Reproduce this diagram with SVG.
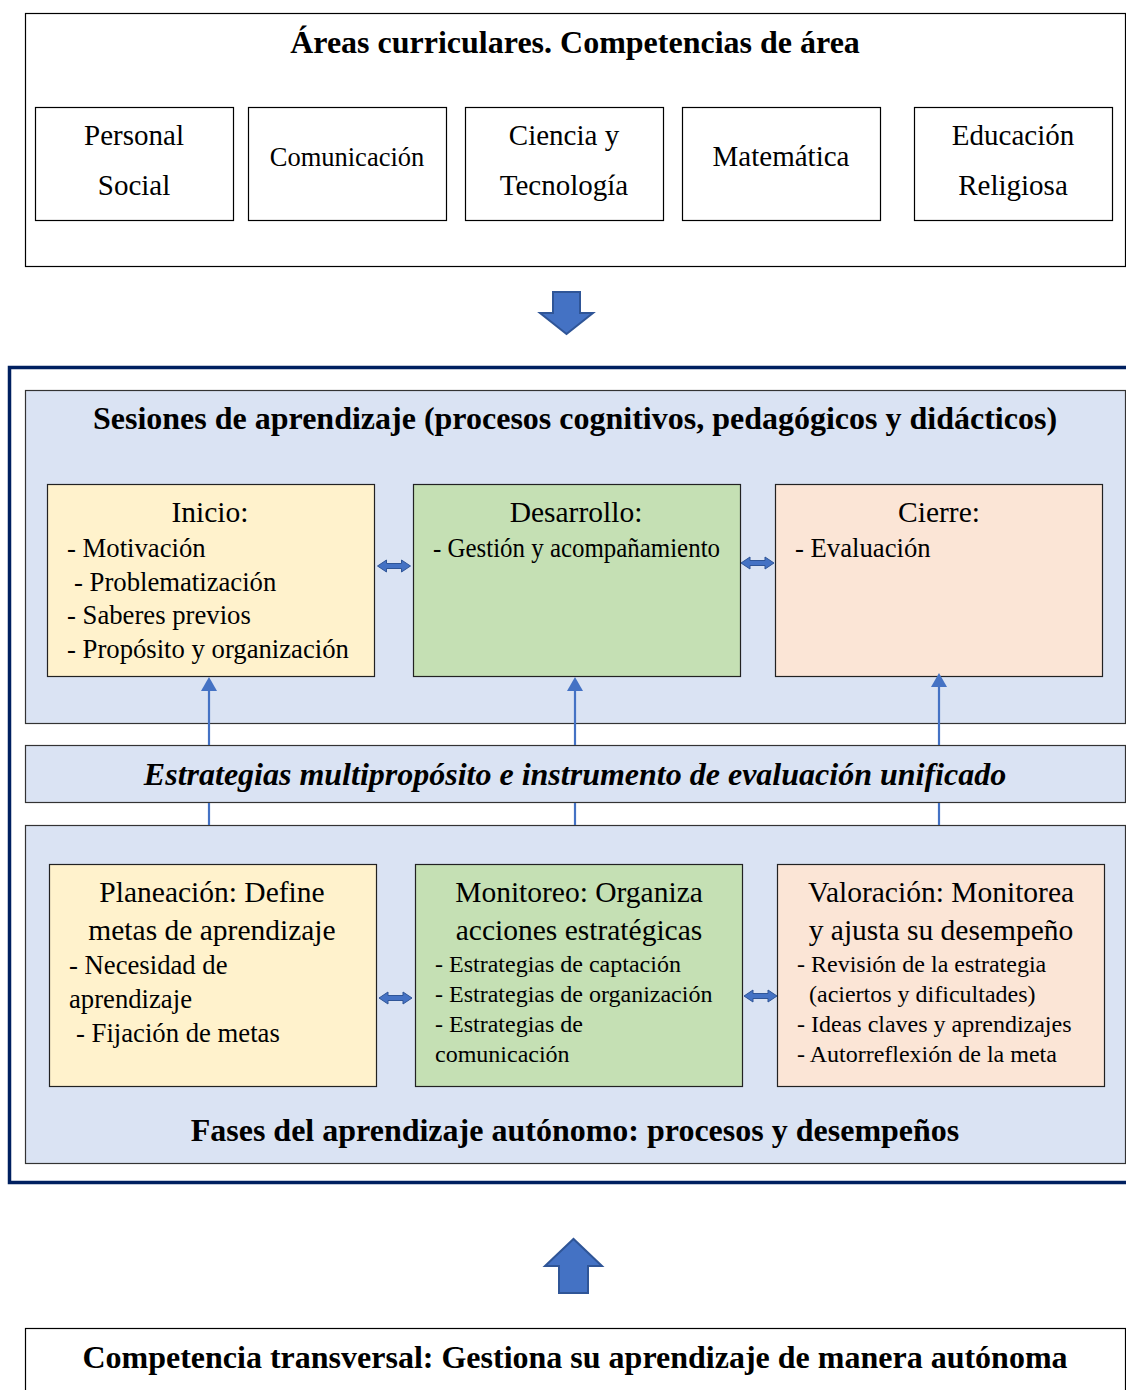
<svg xmlns="http://www.w3.org/2000/svg" width="1126" height="1390" viewBox="0 0 1126 1390">
<style>
text{font-family:"Liberation Serif","Times New Roman",serif;fill:#000}
.b{font-weight:bold}
.c{text-anchor:middle}
.box{fill:#fff;stroke:#000;stroke-width:1.2}
.panel{fill:#DAE3F3;stroke:#333;stroke-width:1.2}
.y{fill:#FFF2CC;stroke:#222;stroke-width:1.2}
.g{fill:#C5E0B4;stroke:#222;stroke-width:1.2}
.p{fill:#FBE5D6;stroke:#222;stroke-width:1.2}
.bigarrow{fill:#4472C4;stroke:#2F5597;stroke-width:2}
.dbl{fill:#4472C4;stroke:#2F5597;stroke-width:1}
.ln{stroke:#4472C4;stroke-width:2.2;fill:none}
.s29{font-size:29px}
.s26{font-size:26.5px}
.h{font-size:29.5px}
.it{font-size:26.7px}
.s24{font-size:24px}
.s32{font-size:32px}
</style>
<defs>
<path id="dbl" d="M0,0 L9,-6 L9,-2.5 L24,-2.5 L24,-6 L33,0 L24,6 L24,2.5 L9,2.5 L9,6 Z"/>
</defs>

<g id="areas">
<rect class="box" x="25.5" y="13.5" width="1100" height="253"/>
<text class="b c s32" x="575" y="53">Áreas curriculares. Competencias de área</text>
</g>
<g id="personal-social">
<rect class="box" x="35.5" y="107.5" width="198" height="113"/>
<text class="c s29" x="134" y="145">Personal</text>
<text class="c s29" x="134" y="195">Social</text>
</g>
<g id="comunicacion">
<rect class="box" x="248.5" y="107.5" width="198" height="113"/>
<text class="c s26" x="347" y="166">Comunicación</text>
</g>
<g id="ciencia">
<rect class="box" x="465.5" y="107.5" width="198" height="113"/>
<text class="c s29" x="564" y="145">Ciencia y</text>
<text class="c s29" x="564" y="195">Tecnología</text>
</g>
<g id="matematica">
<rect class="box" x="682.5" y="107.5" width="198" height="113"/>
<text class="c s29" x="781" y="166">Matemática</text>
</g>
<g id="religiosa">
<rect class="box" x="914.5" y="107.5" width="198" height="113"/>
<text class="c s29" x="1013" y="145">Educación</text>
<text class="c s29" x="1013" y="195">Religiosa</text>
</g>

<g id="arrow-down">
<path class="bigarrow" d="M553,292 L580,292 L580,313 L593,313 L566.5,334 L540,313 L553,313 Z"/>
</g>

<g id="frame">
<rect x="9.5" y="367.5" width="1130" height="815" fill="none" stroke="#002060" stroke-width="3.5"/>
</g>

<g id="sesiones">
<rect class="panel" x="25.5" y="390.5" width="1100" height="333"/>
<text class="b c s32" x="575" y="429">Sesiones de aprendizaje (procesos cognitivos, pedagógicos y didácticos)</text>
</g>

<g id="inicio">
<rect class="y" x="47.5" y="484.5" width="327" height="192"/>
<text class="c h" x="210" y="522">Inicio:</text>
<text class="it" x="67" y="557">- Motivación</text>
<text class="it" x="74" y="591">- Problematización</text>
<text class="it" x="67" y="624">- Saberes previos</text>
<text class="it" x="67" y="658">- Propósito y organización</text>
</g>
<g id="desarrollo">
<rect class="g" x="413.5" y="484.5" width="327" height="192"/>
<text class="c h" x="576" y="522">Desarrollo:</text>
<text class="it" x="433" y="557" textLength="287" lengthAdjust="spacingAndGlyphs">- Gestión y acompañamiento</text>
</g>
<g id="cierre">
<rect class="p" x="775.5" y="484.5" width="327" height="192"/>
<text class="c h" x="939" y="522">Cierre:</text>
<text class="it" x="795" y="557">- Evaluación</text>
</g>

<g id="estrategias">
<rect class="panel" x="25.5" y="745.5" width="1100" height="57"/>
<text class="b c s32" x="575" y="785" font-style="italic">Estrategias multipropósito e instrumento de evaluación unificado</text>
</g>

<g id="fases">
<rect class="panel" x="25.5" y="825.5" width="1100" height="338"/>
<text class="b c s32" x="575" y="1141">Fases del aprendizaje autónomo: procesos y desempeños</text>
</g>

<g id="planeacion">
<rect class="y" x="49.5" y="864.5" width="327" height="222"/>
<text class="c h" x="212" y="902">Planeación: Define</text>
<text class="c h" x="212" y="940">metas de aprendizaje</text>
<text class="it" x="69" y="974">- Necesidad de</text>
<text class="it" x="69" y="1008">aprendizaje</text>
<text class="it" x="76" y="1042">- Fijación de metas</text>
</g>
<g id="monitoreo">
<rect class="g" x="415.5" y="864.5" width="327" height="222"/>
<text class="c h" x="579" y="902">Monitoreo: Organiza</text>
<text class="c h" x="579" y="940">acciones estratégicas</text>
<text class="s24" x="435" y="972">- Estrategias de captación</text>
<text class="s24" x="435" y="1002">- Estrategias de organización</text>
<text class="s24" x="435" y="1032">- Estrategias de</text>
<text class="s24" x="435" y="1062">comunicación</text>
</g>
<g id="valoracion">
<rect class="p" x="777.5" y="864.5" width="327" height="222"/>
<text class="c h" x="941" y="902">Valoración: Monitorea</text>
<text class="c h" x="941" y="940">y ajusta su desempeño</text>
<text class="s24" x="797" y="972">- Revisión de la estrategia</text>
<text class="s24" x="809" y="1002">(aciertos y dificultades)</text>
<text class="s24" x="797" y="1032">- Ideas claves y aprendizajes</text>
<text class="s24" x="797" y="1062">- Autorreflexión de la meta</text>
</g>

<g id="arrow-up">
<path class="bigarrow" d="M559,1293 L588,1293 L588,1266 L602,1266 L573.5,1239 L545,1266 L559,1266 Z"/>
</g>

<g id="transversal">
<rect class="box" x="25.5" y="1328.5" width="1100" height="70"/>
<text class="b c s32" x="575" y="1368">Competencia transversal: Gestiona su aprendizaje de manera autónoma</text>
</g>

<g id="connectors">
<line class="ln" x1="209" y1="745" x2="209" y2="690"/>
<line class="ln" x1="575" y1="745" x2="575" y2="690"/>
<line class="ln" x1="939" y1="745" x2="939" y2="686"/>
<path d="M201,691 L209,677 L217,691 Z" fill="#4472C4"/>
<path d="M567,691 L575,677 L583,691 Z" fill="#4472C4"/>
<path d="M931,687 L939,673 L947,687 Z" fill="#4472C4"/>
<line class="ln" x1="209" y1="803" x2="209" y2="825"/>
<line class="ln" x1="575" y1="803" x2="575" y2="825"/>
<line class="ln" x1="939" y1="803" x2="939" y2="825"/>
<use href="#dbl" class="dbl" x="377.5" y="566"/>
<use href="#dbl" class="dbl" x="741" y="563"/>
<use href="#dbl" class="dbl" x="379" y="998"/>
<use href="#dbl" class="dbl" x="744" y="996"/>
</g>
</svg>
